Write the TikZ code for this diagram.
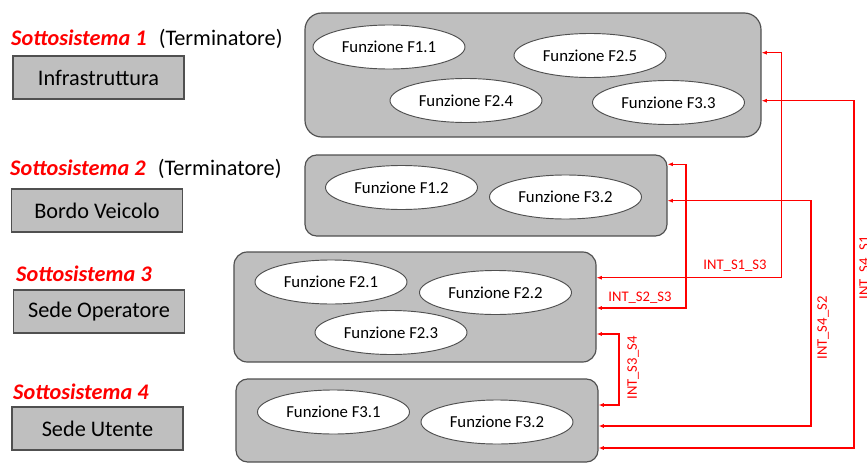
\documentclass[tikz,border=0pt]{standalone}
\usepackage{fontspec}
\setmainfont{Carlito}
\usetikzlibrary{shapes.geometric,arrows.meta,positioning}
\definecolor{boxgray}{RGB}{191,191,191}
\definecolor{edgegray}{RGB}{80,80,80}

\begin{document}
\begin{tikzpicture}[x=0.03cm,y=-0.03cm,
  sub/.style={anchor=base west,inner sep=0,text=red,font=\fontsize{19}{22}\selectfont\bfseries\itshape},
  term/.style={anchor=base west,inner sep=0,font=\fontsize{19}{22}\selectfont},
  site/.style={draw=edgegray,fill=boxgray,line width=0.9pt,minimum width=5.13cm,minimum height=1.29cm,inner sep=0,font=\fontsize{19}{22}\selectfont},
  group/.style={draw=edgegray,fill=boxgray,line width=1pt,inner sep=0},
  func/.style={ellipse,draw=edgegray,fill=white,line width=0.8pt,minimum width=4.56cm,minimum height=1.32cm,inner sep=0,font=\fontsize{14.3}{16}\selectfont},
  link/.style={red,line width=0.9pt,{Latex[length=4.5pt,width=3.5pt]}-{Latex[length=4.5pt,width=3.5pt]}},
  lbl/.style={text=red,inner sep=0,font=\fontsize{12.5}{14}\selectfont}]
\useasboundingbox (0,0) rectangle (867,476);

% subsystems on the left
\node[sub] (s1) at (11,45) {Sottosistema 1};
\node[term, right=10pt of s1.base east, anchor=base west] (t1) {(Terminatore)};
\node[site] (infra) at (98.5,77.5) {Infrastruttura};
\node[sub] (s2) at (10,175) {Sottosistema 2};
\node[term, right=10pt of s2.base east, anchor=base west] (t2) {(Terminatore)};
\node[site] (bordo) at (97,210.5) {Bordo Veicolo};
\node[sub] (s3) at (16,281.5) {Sottosistema 3};
\node[site] (oper) at (99,311.5) {Sede Operatore};
\node[sub] (s4) at (13,399) {Sottosistema 4};
\node[site] (utente) at (97.5,428.5) {Sede Utente};

% function groups
\node[group,rounded corners=0.5cm,minimum width=13.68cm,minimum height=3.72cm] (box1) at (533,75) {};
\node[group,rounded corners=0.35cm,minimum width=10.86cm,minimum height=2.43cm] (box2) at (486,195.5) {};
\node[group,rounded corners=0.4cm,minimum width=10.86cm,minimum height=3.3cm] (box3) at (415,307) {};
\node[group,rounded corners=0.35cm,minimum width=10.86cm,minimum height=2.49cm] (box4) at (417,420.5) {};

\node[func] (f11) at (389,47) {Funzione F1.1};
\node[func] (f25) at (590,55.5) {Funzione F2.5};
\node[func] (f24) at (466,100.5) {Funzione F2.4};
\node[func] (f33) at (668.5,102.5) {Funzione F3.3};
\node[func] (f12) at (401.5,187.5) {Funzione F1.2};
\node[func] (f32a) at (565.5,197) {Funzione F3.2};
\node[func] (f21) at (331,282) {Funzione F2.1};
\node[func] (f22) at (495.5,292.5) {Funzione F2.2};
\node[func] (f23) at (391,332.5) {Funzione F2.3};
\node[func] (f31) at (333.5,412) {Funzione F3.1};
\node[func] (f32b) at (497,422) {Funzione F3.2};

% interfaces
\draw[link] (box1.east |- 0,52.7) -| (781.5,277.7) -- (box3.east |- 0,277.7);
\draw[link] (box2.east |- 0,164.3) -| (686,308) -- (box3.east |- 0,308);
\draw[link] (box3.east |- 0,334) -| (619,405) -- (box4.east |- 0,405);
\draw[link] (box2.east |- 0,200.7) -| (811,426) -- (box4.east |- 0,426);
\draw[link] (box1.east |- 0,100.7) -| (854,448) -- (box4.east |- 0,448);

\node[lbl] (i13) at (735,266) {INT\_S1\_S3};
\node[lbl] (i23) at (640,298) {INT\_S2\_S3};
\node[lbl,rotate=90] (i34) at (633,368) {INT\_S3\_S4};
\node[lbl,rotate=90] (i42) at (823,328) {INT\_S4\_S2};
\node[lbl,rotate=90] (i41) at (865,268) {INT\_S4\_S1};
\end{tikzpicture}
\end{document}
